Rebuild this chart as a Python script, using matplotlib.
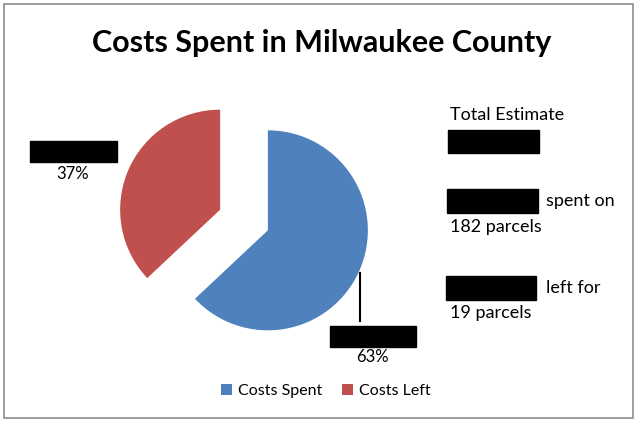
import matplotlib
matplotlib.use("Agg")
import matplotlib.pyplot as plt
from matplotlib.patches import Rectangle

# slice data
categories = ["Costs Spent", "Costs Left"]
shares = [63, 37]
colors = ["#4f81bd", "#c0504d"]

# side notes
parcels_spent = 182
parcels_left = 19

W, H = 639, 422
plt.rcParams["font.family"] = ["Lato", "DejaVu Sans"]

fig = plt.figure(figsize=(W / 100, H / 100), dpi=100)
ax = fig.add_axes([0, 0, 1, 1])


def iy(y):
    # convert top-down pixel rows to axes y
    return H - y


# exploded pie; explode offset is given in data units (pixels here)
wedges, _ = ax.pie(shares, colors=colors, startangle=90, counterclock=False,
                   explode=[26, 26], radius=100, center=(244, iy(220)),
                   frame=True, wedgeprops=dict(linewidth=0))
ax.set_xlim(0, W)
ax.set_ylim(0, H)
ax.set_aspect("equal")
ax.axis("off")

# outer frame
ax.add_patch(Rectangle((4, iy(418)), 629, 414, fill=False,
                       edgecolor="#8c8c8c", linewidth=1.2))

ax.text(322, iy(52), "Costs Spent in Milwaukee County", ha="center",
        va="baseline", fontsize=22, fontweight="bold")

# data labels: a black block over the name, percentage beneath
total = sum(shares)
ax.add_patch(Rectangle((30, iy(162)), 87, 21, color="black"))
ax.text(73, iy(174), f"{shares[1] / total:.0%}", ha="center", va="center",
        fontsize=12)
ax.add_patch(Rectangle((330, iy(347)), 86, 21, color="black"))
ax.text(372, iy(357), f"{shares[0] / total:.0%}", ha="center", va="center",
        fontsize=12)
ax.plot([360, 360], [iy(273), iy(321)], color="black", linewidth=1.5)

# notes on the right
fs = 13
ax.text(450, iy(115), "Total Estimate", ha="left", va="center", fontsize=fs)
ax.add_patch(Rectangle((448, iy(153)), 91, 23, color="black"))
ax.add_patch(Rectangle((447, iy(213)), 91, 24, color="black"))
ax.text(546, iy(201), "spent on", ha="left", va="center", fontsize=fs)
ax.text(450, iy(227), f"{parcels_spent} parcels", ha="left", va="center",
        fontsize=fs)
ax.add_patch(Rectangle((446, iy(300)), 90, 24, color="black"))
ax.text(546, iy(288), "left for", ha="left", va="center", fontsize=fs)
ax.text(450, iy(313), f"{parcels_left} parcels", ha="left", va="center",
        fontsize=fs)

ax.legend(wedges, categories, loc="center", bbox_to_anchor=(326 / W, 1 - 391 / H),
          ncol=2, frameon=False, fontsize=11.5, handlelength=0.7,
          handleheight=0.7, columnspacing=1.2, handletextpad=0.4)

fig.savefig("out.png", dpi=100)
